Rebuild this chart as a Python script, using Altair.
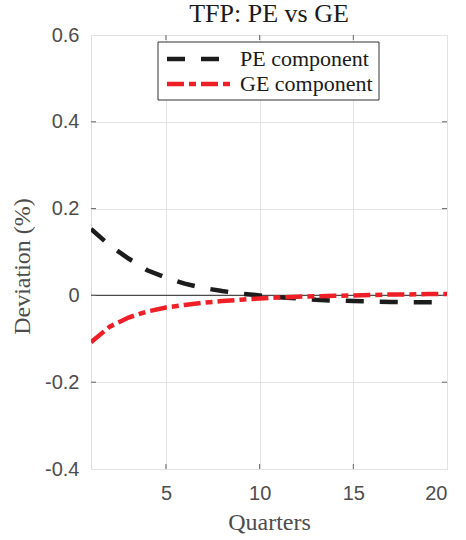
import altair as alt
import pandas as pd

quarters = list(range(1, 21))
pe_component = [0.153, 0.115, 0.085, 0.058, 0.041, 0.027, 0.017, 0.010, 0.004, 0.000,
                -0.004, -0.007, -0.010, -0.012, -0.013, -0.014, -0.015, -0.016, -0.016, -0.016]
ge_component = [-0.108, -0.072, -0.051, -0.037, -0.028, -0.022, -0.017, -0.013, -0.010, -0.007,
                -0.005, -0.003, -0.002, -0.001, 0.000, 0.001, 0.002, 0.002, 0.003, 0.003]
series_names = ["PE component", "GE component"]
series_colors = ["#1c1c1c", "#ee1f26"]
series_dashes = [[18, 16], [17, 5, 7, 5]]
x_ticks = [5, 10, 15, 20]
y_ticks = [-0.4, -0.2, 0, 0.2, 0.4, 0.6]
chart_title = "TFP: PE vs GE"

rows = []
for q, v in zip(quarters, pe_component):
    rows.append({"Quarter": q, "Value": v, "Series": series_names[0]})
for q, v in zip(quarters, ge_component):
    rows.append({"Quarter": q, "Value": v, "Series": series_names[1]})
df = pd.DataFrame(rows)

W, H = 356, 434
tick_font = "Liberation Sans"
serif = "Liberation Serif"

x_scale = alt.Scale(domain=[1, 20], nice=False)
y_scale = alt.Scale(domain=[-0.4, 0.6], nice=False)

x_axis = alt.Axis(values=x_ticks, grid=True, gridColor="#e3e3e3", tickSize=0,
                  labelFont=tick_font, labelFontSize=20, labelColor="#4d4d4d",
                  labelPadding=14, domain=False,
                  title="Quarters", titleFont=serif, titleFontSize=24,
                  titleFontWeight="normal", titleColor="#4d4d4d",
                  titleBaseline="alphabetic", titleY=60)
y_axis = alt.Axis(values=y_ticks, grid=True, gridColor="#e3e3e3", tickSize=0,
                  labelFont=tick_font, labelFontSize=20, labelColor="#4d4d4d",
                  labelPadding=12, domain=False,
                  labelExpr="toString(datum.value)",
                  title="Deviation (%)", titleFont=serif, titleFontSize=24,
                  titleFontWeight="normal", titleColor="#4d4d4d",
                  titleBaseline="middle", titleX=-69, titleY=231)

lines = alt.Chart(df).mark_line(strokeWidth=4.5, strokeCap="butt", clip=True).encode(
    x=alt.X("Quarter:Q", scale=x_scale, axis=x_axis),
    y=alt.Y("Value:Q", scale=y_scale, axis=y_axis),
    color=alt.Color("Series:N", scale=alt.Scale(domain=series_names, range=series_colors), legend=None),
    strokeDash=alt.StrokeDash("Series:N", scale=alt.Scale(domain=series_names, range=series_dashes), legend=None),
    order=alt.Order("Quarter:Q"),
)

zero_df = pd.DataFrame({"y": [0]})
zero = alt.Chart(zero_df).mark_rule(color="#4a4a4a", strokeWidth=1.4).encode(
    y=alt.Y("y:Q", scale=y_scale)
)

xt_df = pd.DataFrame({"x": x_ticks[:-1]})
yt_df = pd.DataFrame({"y": y_ticks[1:-1]})
xt_bottom = alt.Chart(xt_df).mark_rule(color="#666666", strokeWidth=1).encode(
    x=alt.X("x:Q", scale=x_scale), y=alt.value(H), y2=alt.value(H - 5))
xt_top = alt.Chart(xt_df).mark_rule(color="#666666", strokeWidth=1).encode(
    x=alt.X("x:Q", scale=x_scale), y=alt.value(0), y2=alt.value(5))
yt_left = alt.Chart(yt_df).mark_rule(color="#666666", strokeWidth=1).encode(
    y=alt.Y("y:Q", scale=y_scale), x=alt.value(0), x2=alt.value(5))
yt_right = alt.Chart(yt_df).mark_rule(color="#666666", strokeWidth=1).encode(
    y=alt.Y("y:Q", scale=y_scale), x=alt.value(W), x2=alt.value(W - 5))

one = pd.DataFrame({"k": [0]})

# title as text
title_mark = alt.Chart(one).mark_text(font=serif, fontSize=26, color="#1a1a1a", align="center",
                                      baseline="alphabetic").encode(
    x=alt.value(W / 2), y=alt.value(-13), text=alt.value(chart_title))

# legend (custom, box + symbols + labels)
legend_box = alt.Chart(one).mark_rect(fill="white", stroke="#333333", strokeWidth=1).encode(
    x=alt.value(67), x2=alt.value(288), y=alt.value(7), y2=alt.value(65))
legend_layers = [legend_box]
for i, (name, col, dash) in enumerate(zip(series_names, series_colors, series_dashes)):
    ly = 24 + 25 * i
    legend_layers.append(
        alt.Chart(one).mark_rule(color=col, strokeWidth=4.5, strokeDash=dash, strokeCap="butt").encode(
            x=alt.value(76), x2=alt.value(142), y=alt.value(ly)))
    legend_layers.append(
        alt.Chart(one).mark_text(font=serif, fontSize=22, color="#1a1a1a", align="left",
                                 baseline="alphabetic").encode(
            x=alt.value(149), y=alt.value(ly + 7), text=alt.value(name)))

chart = alt.layer(zero, xt_bottom, xt_top, yt_left, yt_right, lines, title_mark, *legend_layers).properties(
    width=W, height=H,
    autosize=alt.AutoSizeParams(type="none"),
    padding={"left": 91, "top": 35, "right": 19, "bottom": 71},
).configure_view(stroke="#8a8a8a", strokeWidth=1.5).configure(background="white")

chart.save("out.html", embed_options={"renderer": "svg", "actions": False})
